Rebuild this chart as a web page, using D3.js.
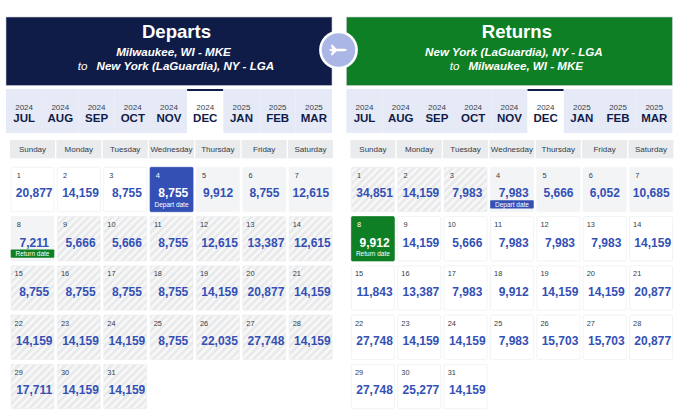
<!DOCTYPE html>
<html>
<head>
<meta charset="utf-8">
<script src="https://cdn.jsdelivr.net/npm/d3@7"></script>
<style>
  html, body { margin: 0; padding: 0; background: #fff; }
  svg { display: block; font-family: "Liberation Sans", Arial, sans-serif; }
</style>
</head>
<body>
<svg width="680" height="420"></svg>
<script>
const monthNames = ['JUL', 'AUG', 'SEP', 'OCT', 'NOV', 'DEC', 'JAN', 'FEB', 'MAR'];
const monthYears = ['2024', '2024', '2024', '2024', '2024', '2024', '2025', '2025', '2025'];
const activeMonth = 'DEC';
const weekdays = ['Sunday', 'Monday', 'Tuesday', 'Wednesday', 'Thursday', 'Friday', 'Saturday'];

const departFares = [
  20877, 14159, 8755, 8755, 9912, 8755, 12615,
  7211, 5666, 5666, 8755, 12615, 13387, 12615,
  8755, 8755, 8755, 8755, 14159, 20877, 14159,
  14159, 14159, 14159, 8755, 22035, 27748, 14159,
  17711, 14159, 14159
];
const returnFares = [
  34851, 14159, 7983, 7983, 5666, 6052, 10685,
  9912, 14159, 5666, 7983, 7983, 7983, 14159,
  11843, 13387, 7983, 9912, 14159, 14159, 20877,
  27748, 14159, 14159, 7983, 15703, 15703, 20877,
  27748, 25277, 14159
];

const departDate = 4;
const returnDate = 8;

// cell look for a given day, the two panels shade opposite ends of the month
function departState(day) {
  if (day === departDate) return 'selected';
  if (day < departDate) return 'plain';
  if (day <= returnDate) return 'between';
  return 'hatched';
}
function returnState(day) {
  if (day === returnDate) return 'selected';
  if (day < departDate) return 'hatched';
  if (day < returnDate) return 'between';
  return 'plain';
}

const navy = '#101c48';
const green = '#0e7f24';
const blue = '#3450b5';

const svg = d3.select('svg');

const defs = svg.append('defs');
const hatch = defs.append('pattern')
  .attr('id', 'hatch')
  .attr('patternUnits', 'userSpaceOnUse')
  .attr('width', 5.4)
  .attr('height', 5.4)
  .attr('patternTransform', 'rotate(45)');
hatch.append('rect').attr('width', 5.4).attr('height', 5.4).attr('fill', '#f7f7f8');
hatch.append('rect').attr('width', 2.7).attr('height', 5.4).attr('fill', '#e8e9ea');

const monthScale = d3.scaleBand().domain(monthNames).range([6, 332]);
const weekdayScale = d3.scaleBand().domain(weekdays).range([10, 333]).paddingInner(0.03);
const colScale = d3.scaleBand().domain(d3.range(7)).range([10.7, 332.4]).paddingInner(0.06);
const rowScale = d3.scaleBand().domain(d3.range(5)).range([167, 409]).paddingInner(0.086);
const fareFormat = d3.format(',');

function drawPanel(dx, opts) {
  const panel = svg.append('g').attr('transform', 'translate(' + dx + ',0)');

  // header
  panel.append('rect')
    .attr('x', 6).attr('y', 17)
    .attr('width', 326).attr('height', 68.5)
    .attr('fill', opts.color)
    .attr('stroke', '#c9ccd3').attr('stroke-width', 0.6);
  panel.append('text')
    .attr('x', 176.5).attr('y', 38.3)
    .attr('text-anchor', 'middle')
    .attr('font-size', 18.6).attr('font-weight', 'bold')
    .attr('fill', '#fff')
    .text(opts.title);
  panel.append('text')
    .attr('x', 173.5).attr('y', 56)
    .attr('text-anchor', 'middle')
    .attr('font-size', 11.6).attr('font-weight', 'bold').attr('font-style', 'italic')
    .attr('fill', '#fff')
    .text(opts.from);
  const toLine = panel.append('text')
    .attr('x', 176).attr('y', 69.7)
    .attr('text-anchor', 'middle')
    .attr('font-size', 11.6).attr('font-style', 'italic')
    .attr('fill', '#fff');
  toLine.append('tspan').text('to');
  toLine.append('tspan').attr('dx', 9).attr('font-weight', 'bold').text(opts.to);

  // month strip
  const months = panel.selectAll('g.month')
    .data(monthNames)
    .enter()
    .append('g')
    .attr('class', 'month')
    .attr('transform', d => 'translate(' + monthScale(d) + ',89)');
  months.append('rect')
    .attr('width', monthScale.bandwidth())
    .attr('height', 44)
    .attr('fill', d => d === activeMonth ? '#fff' : '#e6eaf6');
  months.filter(d => d === activeMonth).append('rect')
    .attr('width', monthScale.bandwidth())
    .attr('height', 2)
    .attr('fill', navy);
  months.append('text')
    .attr('x', monthScale.bandwidth() / 2).attr('y', 20.8)
    .attr('text-anchor', 'middle')
    .attr('font-size', 8).attr('fill', '#3a3f4e')
    .text((d, i) => monthYears[i]);
  months.append('text')
    .attr('x', monthScale.bandwidth() / 2).attr('y', 33)
    .attr('text-anchor', 'middle')
    .attr('font-size', 11.5).attr('font-weight', 'bold').attr('fill', navy)
    .text(d => d);

  // weekday row
  const heads = panel.selectAll('g.weekday')
    .data(weekdays)
    .enter()
    .append('g')
    .attr('class', 'weekday')
    .attr('transform', d => 'translate(' + weekdayScale(d) + ',140)');
  heads.append('rect')
    .attr('width', weekdayScale.bandwidth())
    .attr('height', 18.3)
    .attr('fill', '#e9ebed');
  heads.append('text')
    .attr('x', weekdayScale.bandwidth() / 2).attr('y', 12)
    .attr('text-anchor', 'middle')
    .attr('font-size', 8).attr('fill', '#333b4a')
    .text(d => d);

  // day cells
  const cells = panel.selectAll('g.day')
    .data(opts.fares.map((fare, i) => ({
      day: i + 1,
      fare: fare,
      col: i % 7,
      row: Math.floor(i / 7),
      state: opts.state(i + 1)
    })))
    .enter()
    .append('g')
    .attr('class', 'day')
    .attr('transform', d => 'translate(' + colScale(d.col) + ',' + rowScale(d.row) + ')');

  cells.append('rect')
    .attr('x', 0.3).attr('y', 0.3)
    .attr('width', colScale.bandwidth() - 0.6)
    .attr('height', rowScale.bandwidth() - 0.6)
    .attr('rx', 1.2)
    .attr('fill', d => {
      if (d.state === 'selected') return opts.selectedColor;
      if (d.state === 'hatched') return 'url(#hatch)';
      if (d.state === 'between') return '#f3f4f6';
      return '#fff';
    })
    .attr('stroke', d => {
      if (d.state === 'selected') return opts.selectedColor;
      if (d.state === 'between') return '#f3f4f6';
      return '#eceef0';
    })
    .attr('stroke-width', 0.7);

  cells.append('text')
    .attr('x', 8).attr('y', 11)
    .attr('text-anchor', 'middle')
    .attr('font-size', 7.4)
    .attr('fill', d => d.state === 'selected' ? '#fff' : '#333b4a')
    .text(d => d.day);

  cells.append('text')
    // the last three cells of the first row sit a little further left
    .attr('x', d => colScale.bandwidth() / 2 + (d.row === 0 && d.col > 3 ? 0.2 : 1.7))
    .attr('y', 30.4)
    .attr('text-anchor', 'middle')
    .attr('font-size', 12).attr('font-weight', 'bold')
    .attr('fill', d => d.state === 'selected' ? '#fff' : blue)
    .text(d => fareFormat(d.fare));

  // date tags: inside the selected cell just a caption, elsewhere a coloured pill
  const tagged = cells.filter(d => d.day === departDate || d.day === returnDate);
  tagged.filter(d => d.state !== 'selected').append('rect')
    .attr('y', 33.3)
    .attr('width', colScale.bandwidth())
    .attr('height', 8.2)
    .attr('rx', 0.8)
    .attr('fill', d => d.day === departDate ? blue : green);
  tagged.append('text')
    .attr('x', colScale.bandwidth() / 2).attr('y', 39.6)
    .attr('text-anchor', 'middle')
    .attr('font-size', 6.5)
    .attr('fill', '#fff')
    .text(d => d.day === departDate ? 'Depart date' : 'Return date');
}

drawPanel(0, {
  title: 'Departs',
  from: 'Milwaukee, WI - MKE',
  to: 'New York (LaGuardia), NY - LGA',
  color: navy,
  selectedColor: blue,
  fares: departFares,
  state: departState
});

drawPanel(340.4, {
  title: 'Returns',
  from: 'New York (LaGuardia), NY - LGA',
  to: 'Milwaukee, WI - MKE',
  color: green,
  selectedColor: green,
  fares: returnFares,
  state: returnState
});

// plane badge between the two headers
const badge = svg.append('g').attr('transform', 'translate(338.5,50)');
badge.append('circle').attr('r', 19.4).attr('fill', '#fff');
badge.append('circle').attr('r', 16.8).attr('fill', '#aab7e6');
badge.append('path')
  .attr('fill', '#fff')
  .attr('transform', 'scale(0.74)')
  .attr('d', 'M-12,-1.2 L-10,-1.2 L-8.4,-1.4 L-10.4,-6.8 L-8.6,-7.4 L-2.6,-1.6 L6,-1.6 C10,-1.6 11.4,-0.6 11.4,0 C11.4,0.6 10,1.6 6,1.6 L-2.6,1.6 L-8.6,7.4 L-10.4,6.8 L-8.4,1.4 L-10,1.2 L-12,1.2 Z');
</script>
</body>
</html>
